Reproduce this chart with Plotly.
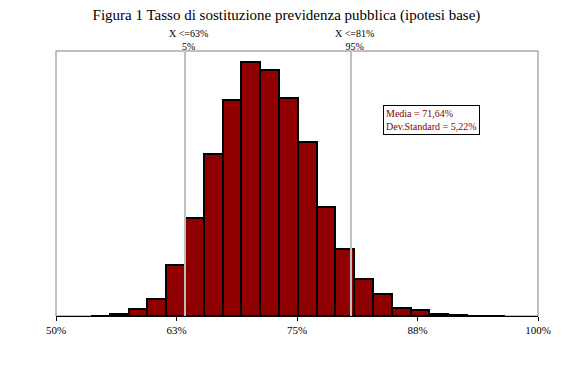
import plotly.graph_objects as go

# Bin centers (fraction) and relative frequencies
bin_centers = [0.5461, 0.5656, 0.5851, 0.6046, 0.6241, 0.6436, 0.6631, 0.6826,
               0.7021, 0.7216, 0.7411, 0.7606, 0.7801, 0.7996, 0.8191, 0.8386,
               0.8581, 0.8776, 0.8971, 0.9166, 0.9361, 0.9556]
frequencies = [0.5, 2, 7.3, 17.3, 51, 98, 162, 216, 254, 246.3, 218.3, 173.7,
               108.7, 66.7, 37.3, 22.3, 8.3, 6, 2, 0.7, 0.3, 0.3]
bin_width = 0.0195

tick_vals = [0.5, 0.625, 0.75, 0.875, 1.0]
tick_text = ["50%", "63%", "75%", "88%", "100%"]

percentile_x = [0.6338, 0.806]
percentile_labels = ["X <=63%<br>5%", "X <=81%<br>95%"]

title_text = "Figura 1 Tasso di sostituzione previdenza pubblica (ipotesi base)"
stats_text = "Media = 71,64%<br>Dev.Standard = 5,22%"

SERIF = "Liberation Serif, Times New Roman, serif"
W, H = 563, 379

fig = go.Figure()
fig.add_trace(go.Bar(
    x=bin_centers, y=frequencies, width=[bin_width] * len(bin_centers),
    marker=dict(color="#8f0000", line=dict(color="black", width=2)),
    showlegend=False, hoverinfo="skip"))

# plot area border (gray)
fig.add_shape(type="rect", xref="paper", yref="paper", x0=0, x1=1, y0=0, y1=1,
              line=dict(color="#808080", width=1), layer="below")

for xv, lab in zip(percentile_x, percentile_labels):
    fig.add_shape(type="line", xref="x", yref="paper", x0=xv, x1=xv, y0=0, y1=1,
                  line=dict(color="#c0c0c0", width=2))
    fig.add_annotation(x=xv, xref="x", xshift=4, y=1, yref="paper", yanchor="bottom",
                       yshift=-3, text=lab, showarrow=False,
                       font=dict(family=SERIF, size=10, color="black"), align="center")

fig.add_annotation(x=0.8395, xref="x", xanchor="left", y=0.74, yref="paper", yanchor="middle",
                   text=stats_text, showarrow=False, align="left",
                   font=dict(family=SERIF, size=10, color="#800000"),
                   bordercolor="black", borderwidth=1, bgcolor="white", borderpad=2)

fig.update_layout(
    width=W, height=H,
    margin=dict(l=56, r=15, t=51, b=63),
    paper_bgcolor="white", plot_bgcolor="white",
    bargap=0,
    title=dict(text=title_text, x=286.5 / W, xanchor="center",
               y=1 - 15 / H, yanchor="middle",
               font=dict(family=SERIF, size=15, color="black")),
    xaxis=dict(range=[0.5, 1.0], tickvals=tick_vals, ticktext=tick_text,
               ticks="outside", ticklen=4, tickcolor="black",
               showline=True, linecolor="black", linewidth=1, mirror=False,
               showgrid=False, zeroline=False,
               tickfont=dict(family=SERIF, size=11, color="black")),
    yaxis=dict(range=[0, 265], showticklabels=False, ticks="", showgrid=False,
               zeroline=False, showline=False),
)

fig.write_html(
    "out.html",
    config={"displayModeBar": False},
    post_script="document.body.style.margin='0px';document.body.style.padding='0px';"
                "document.documentElement.style.overflow='hidden';",
)
